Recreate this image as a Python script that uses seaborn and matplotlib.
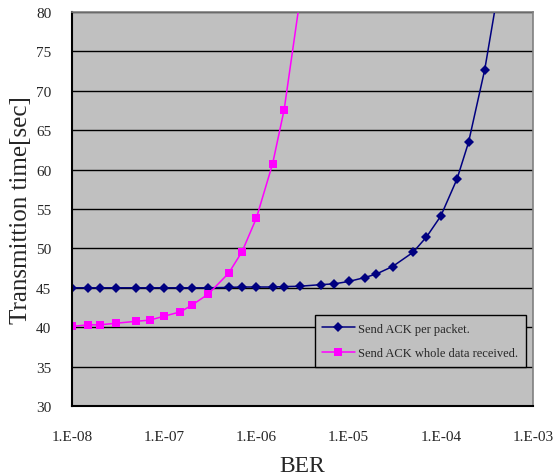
import numpy as np
import matplotlib
matplotlib.use("Agg")
import matplotlib.pyplot as plt
import seaborn as sns
import pandas as pd

# BER values (same for both series)
ber = [1e-8, 1.5e-8, 2e-8, 3e-8, 5e-8, 7e-8,
       1e-7, 1.5e-7, 2e-7, 3e-7, 5e-7, 7e-7,
       1e-6, 1.5e-6, 2e-6, 3e-6, 5e-6, 7e-6,
       1e-5, 1.5e-5, 2e-5, 3e-5, 5e-5, 7e-5,
       1e-4, 1.5e-4, 2e-4, 3e-4, 5e-4]

per_packet = [45.0, 45.0, 45.0, 45.0, 45.0, 45.0,
              45.0, 45.0, 45.0, 45.0, 45.05, 45.1,
              45.1, 45.1, 45.15, 45.2, 45.4, 45.5,
              45.8, 46.3, 46.75, 47.7, 49.5, 51.45,
              54.1, 58.8, 63.45, 72.7, 88.0]

ber_whole = [1e-8, 1.5e-8, 2e-8, 3e-8, 5e-8, 7e-8,
             1e-7, 1.5e-7, 2e-7, 3e-7, 5e-7, 7e-7,
             1e-6, 1.5e-6, 2e-6, 3e-6]
whole_data = [40.1, 40.3, 40.3, 40.5, 40.75, 40.9,
              41.4, 41.95, 42.8, 44.2, 46.85, 49.6,
              53.85, 60.75, 67.6, 82.0]

xticks = [1e-8, 1e-7, 1e-6, 1e-5, 1e-4, 1e-3]
xtick_labels = ["1.E-08", "1.E-07", "1.E-06", "1.E-05", "1.E-04", "1.E-03"]
yticks = [30, 35, 40, 45, 50, 55, 60, 65, 70, 75, 80]

lab1 = "Send ACK per packet."
lab2 = "Send ACK whole data received."
df = pd.concat([
    pd.DataFrame({"BER": ber, "time": per_packet, "series": lab1}),
    pd.DataFrame({"BER": ber_whole, "time": whole_data, "series": lab2}),
])

sns.set_style("white", {"axes.facecolor": "#C0C0C0"})
plt.rcParams["font.family"] = ["Liberation Serif", "DejaVu Serif"]

fig = plt.figure(figsize=(5.54, 4.77), dpi=100)
ax = fig.add_axes([0.130, 0.1468, 0.832, 0.8259])

sns.lineplot(data=df, x="BER", y="time", hue="series", style="series",
             palette={lab1: "#000080", lab2: "#FF00FF"},
             markers={lab1: "D", lab2: "s"}, dashes=False,
             markersize=5.5, markeredgewidth=0, linewidth=1.1,
             sort=False, ax=ax)

ax.set_xscale("log")
ax.set_xlim(1e-8, 1e-3)
ax.set_ylim(30, 80)
ax.set_xticks(xticks)
ax.set_xticklabels(xtick_labels)
ax.xaxis.set_minor_locator(matplotlib.ticker.NullLocator())
ax.set_yticks(yticks)

ax.yaxis.grid(True, color="black", linewidth=1.0)
ax.set_axisbelow(True)
ax.tick_params(axis="x", direction="in", length=4, width=1, color="black",
               labelsize=11, pad=17)
ax.tick_params(axis="y", direction="in", length=3, width=1, color="black",
               labelsize=11, pad=15)
for s in ["left", "bottom"]:
    ax.spines[s].set_color("black")
    ax.spines[s].set_linewidth(1.5)
for s in ["top", "right"]:
    ax.spines[s].set_color("#808080")
    ax.spines[s].set_linewidth(1.2)

ax.set_xlabel("BER", fontsize=17, labelpad=9)
ax.set_ylabel("Transmittion time[sec]", fontsize=18, labelpad=3)

leg = ax.legend(loc="lower right", bbox_to_anchor=(0.985, 0.1), fontsize=9,
                frameon=True, fancybox=False, framealpha=1, edgecolor="black",
                borderpad=0.6, labelspacing=1.0, handlelength=2.6,
                handletextpad=0.3, borderaxespad=0)
leg.get_frame().set_linewidth(1.0)

plt.savefig("out.png", dpi=100)
